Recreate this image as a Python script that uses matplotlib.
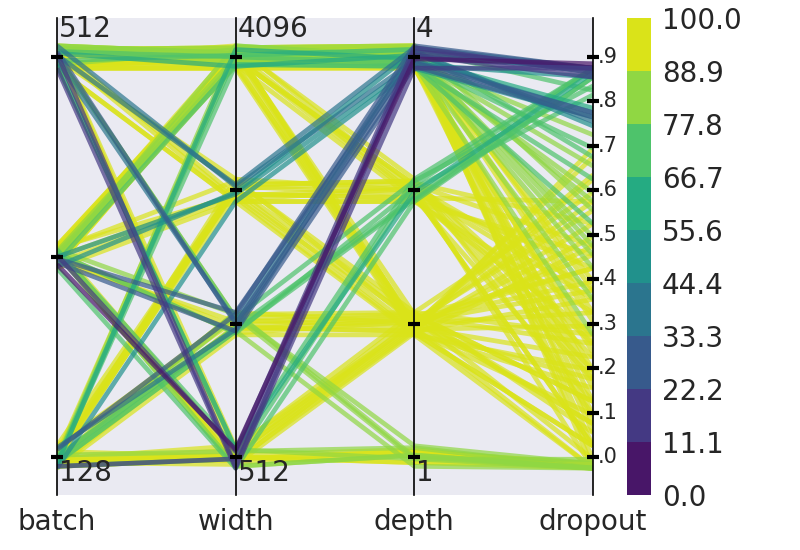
import numpy as np
import matplotlib
matplotlib.use("Agg")
import matplotlib.pyplot as plt
from matplotlib.colors import BoundaryNorm, ListedColormap
from matplotlib.cm import ScalarMappable

# one entry per training run
batch = [512, 256, 128, 512, 256,
         512, 256, 128, 512, 128, 256,
         512, 256, 128, 512, 256,
         512, 128, 512, 256, 512, 128, 512, 256, 512, 256, 512, 256, 512, 512,
         256, 512, 128, 512, 256, 512, 128, 512,
         128, 256, 512, 128, 256, 512,
         512, 256, 512, 128, 256, 512, 128, 256, 512, 128, 256, 512,
         512, 256, 512, 256, 128, 512, 128, 128, 256, 128, 512, 128, 256,
         128, 256, 128, 512, 128, 256, 128, 256, 128, 512,
         128, 128, 256, 512, 128, 128, 256, 128, 256, 128,
         512, 256, 512, 128, 512, 256, 512, 256, 512, 256, 512, 256,
         512, 256, 128, 256, 512, 256,
         512, 256, 128, 256, 128, 256, 128, 128, 256, 128, 512, 256,
         128, 256, 128, 512,
         128, 256]
width = [512, 512, 512, 512, 512,
         1024, 1024, 1024, 1024, 1024, 1024,
         2048, 2048, 2048, 2048, 2048,
         4096, 4096, 4096, 4096, 4096, 4096, 4096, 4096, 4096, 4096, 4096, 4096, 4096, 4096,
         4096, 4096, 4096, 4096, 4096, 4096, 4096, 4096,
         1024, 512, 1024, 512, 1024, 512,
         4096, 4096, 4096, 2048, 2048, 2048, 2048, 2048, 2048, 2048, 4096, 2048,
         4096, 4096, 4096, 2048, 2048, 2048, 1024, 1024, 1024, 1024, 1024, 1024, 1024,
         512, 512, 512, 512, 512, 512, 2048, 4096, 1024, 4096,
         512, 512, 512, 512, 512, 1024, 1024, 512, 512, 1024,
         4096, 4096, 4096, 4096, 4096, 4096, 4096, 4096, 4096, 4096, 4096, 4096,
         4096, 4096, 2048, 2048, 2048, 4096,
         4096, 4096, 2048, 2048, 1024, 1024, 1024, 512, 512, 512, 2048, 4096,
         512, 512, 1024, 512,
         1024, 512]
depth = [4, 4, 4, 4, 4,
         4, 4, 4, 4, 4, 4,
         4, 4, 4, 4, 4,
         4, 4, 4, 4, 4, 4, 4, 4, 4, 4, 4, 4, 4, 4,
         4, 4, 4, 4, 4, 4, 4, 4,
         3, 3, 3, 3, 3, 3,
         3, 3, 3, 3, 3, 3, 3, 3, 3, 3, 3, 3,
         2, 2, 2, 2, 2, 2, 2, 2, 2, 2, 2, 2, 2,
         2, 2, 2, 2, 2, 2, 2, 2, 2, 2,
         1, 1, 1, 1, 1, 1, 1, 1, 1, 1,
         4, 4, 4, 4, 4, 4, 4, 4, 4, 4, 4, 4,
         3, 3, 3, 3, 3, 3,
         2, 2, 2, 2, 2, 2, 2, 2, 2, 2, 2, 2,
         1, 1, 1, 1,
         3, 3]
dropout = [0.90, 0.89, 0.90, 0.88, 0.91,
           0.80, 0.79, 0.90, 0.89, 0.78, 0.90,
           0.80, 0.88, 0.79, 0.90, 0.77,
           0.90, 0.81, 0.72, 0.65, 0.58, 0.70, 0.50, 0.45, 0.38, 0.30, 0.22, 0.15, 0.08, 0.02,
           0.26, 0.62, 0.55, 0.12, 0.35, 0.42, 0.48, 0.68,
           0.90, 0.88, 0.86, 0.90, 0.84, 0.89,
           0.45, 0.30, 0.12, 0.55, 0.40, 0.20, 0.05, 0.60, 0.35, 0.25, 0.50, 0.00,
           0.70, 0.55, 0.05, 0.62, 0.45, 0.10, 0.66, 0.52, 0.38, 0.22, 0.15, 0.02, 0.58,
           0.48, 0.32, 0.18, 0.08, 0.28, 0.42, 0.35, 0.25, 0.72, 0.00,
           0.00, 0.01, 0.00, 0.02, 0.00, 0.00, 0.01, 0.00, 0.01, 0.00,
           0.05, 0.18, 0.28, 0.40, 0.33, 0.52, 0.60, 0.75, 0.10, 0.00, 0.85, 0.20,
           0.38, 0.05, 0.15, 0.48, 0.28, 0.22,
           0.40, 0.65, 0.20, 0.05, 0.30, 0.10, 0.45, 0.60, 0.00, 0.12, 0.50, 0.15,
           0.01, 0.00, 0.00, 0.01,
           0.88, 0.90]
score = [12, 15, 18, 21, 9,
         28, 32, 25, 35, 38, 30,
         42, 45, 48, 40, 52,
         58, 62, 70, 75, 78, 68, 82, 85, 86, 88, 92, 94, 95, 96,
         90, 80, 76, 97, 91, 89, 84, 79,
         72, 68, 74, 70, 76, 66,
         97, 98, 96, 95, 98, 97, 96, 93, 99, 95, 94, 94,
         95, 97, 98, 96, 98, 99, 94, 97, 99, 98, 97, 96, 95,
         98, 99, 97, 96, 98, 97, 96, 98, 93, 99,
         88, 92, 80, 85, 95, 82, 78, 90, 94, 86,
         97, 95, 93, 90, 94, 88, 86, 82, 96, 98, 77, 93,
         98, 97, 98, 96, 97, 96,
         97, 95, 98, 99, 98, 97, 96, 95, 98, 99, 96, 98,
         91, 87, 84, 93,
         73, 69]

axis_names = ["batch", "width", "depth", "dropout"]
batch_levels = [128, 256, 512]
width_levels = [512, 1024, 2048, 4096]
depth_levels = [1, 2, 3, 4]
dropout_ticks = [0.0, 0.1, 0.2, 0.3, 0.4, 0.5, 0.6, 0.7, 0.8, 0.9]
score_bounds = np.linspace(0, 100, 10)


def level_pos(v, levels):
    return levels.index(v) / (len(levels) - 1)


fig = plt.figure(figsize=(8, 5.5), dpi=100)
ax = fig.add_axes([57 / 800, 55 / 550, 536 / 800, 477 / 550])
cax = fig.add_axes([627 / 800, 55 / 550, 24 / 800, 477 / 550])

# 9 viridis steps taken at the bin centres
cmap = ListedColormap(plt.get_cmap("viridis")(np.linspace(0.5 / 9, 8.5 / 9, 9)))
norm = BoundaryNorm(score_bounds, cmap.N)

ax.set_facecolor("#EAEAF2")
for s in ax.spines.values():
    s.set_visible(False)
ax.set_xlim(0, 3)
ax.set_ylim(-0.095, 1.0975)
ax.set_yticks([])

# small offsets so runs with the same settings do not sit on one line
amp = 0.028
order = np.argsort(score, kind="stable")[::-1]
for i in order:
    ys = np.array([level_pos(batch[i], batch_levels),
                   level_pos(width[i], width_levels),
                   level_pos(depth[i], depth_levels),
                   dropout[i] / 0.9])
    jit = np.array([((i * (7 + 2 * j)) % 13) / 6 - 1 for j in range(4)])
    ax.plot(range(4), ys + amp * jit, color=cmap(norm(score[i])), lw=3.4,
            alpha=0.7, solid_capstyle="butt", zorder=2)

for x in range(4):
    ax.axvline(x, color="black", lw=1.2, zorder=3, clip_on=False)

tick_sets = [[level_pos(v, batch_levels) for v in batch_levels],
             [level_pos(v, width_levels) for v in width_levels],
             [level_pos(v, depth_levels) for v in depth_levels],
             [v / 0.9 for v in dropout_ticks]]
for x, ts in enumerate(tick_sets):
    ax.plot([x] * len(ts), ts, ls="none", marker="_", ms=8, mew=3,
            color="black", zorder=4, clip_on=False)

# min / max labels on the discrete axes
ends = [(batch_levels[0], batch_levels[-1]), (width_levels[0], width_levels[-1]),
        (depth_levels[0], depth_levels[-1])]
for x, (lo, hi) in enumerate(ends):
    ax.text(x + 0.01, 1.105, str(hi), fontsize=20, va="top", ha="left", color="#262626")
    ax.text(x + 0.01, -0.005, str(lo), fontsize=20, va="top", ha="left", color="#262626")

for v in dropout_ticks:
    ax.text(3.025, v / 0.9, ("%.1f" % v)[1:], fontsize=15, va="center",
            ha="left", color="#262626")

ax.set_xticks(range(4))
ax.set_xticklabels(axis_names, fontsize=20, color="#262626")
ax.tick_params(axis="x", length=0, pad=9)

sm = ScalarMappable(norm=norm, cmap=cmap)
cb = fig.colorbar(sm, cax=cax, ticks=score_bounds)
cb.outline.set_visible(False)
cax.set_yticklabels(["%.1f" % b for b in score_bounds], fontsize=20, color="#262626")
cax.tick_params(length=0, pad=8)

fig.savefig("out.png", dpi=100)
